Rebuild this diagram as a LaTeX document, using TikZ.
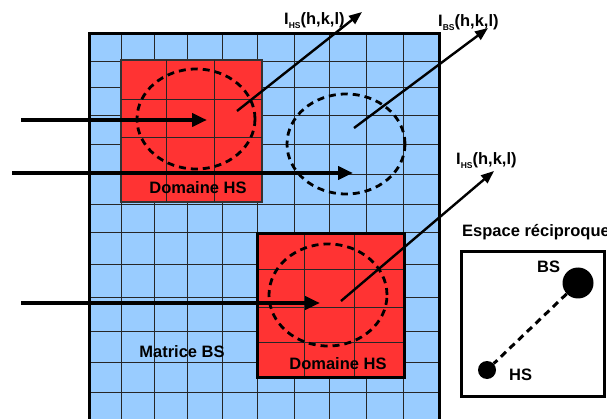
\documentclass[tikz,border=0pt]{standalone}
\usepackage{fontspec}
\setmainfont{Liberation Sans}
\usetikzlibrary{arrows.meta,shapes.geometric}

\definecolor{bleumat}{HTML}{99CCFF}
\definecolor{rougehs}{HTML}{FF3333}

\tikzset{
  matrice/.style={fill=bleumat, draw=none, inner sep=0pt, outer sep=0pt},
  domaine/.style={fill=rougehs, inner sep=0pt, outer sep=0pt},
  grille/.style={line width=1pt, draw=black!85},
  bord/.style={line width=3pt, line cap=rect},
  tache/.style={draw, dashed, dash pattern=on 7pt off 5pt, line width=2.8pt, ellipse, inner sep=0pt, minimum width=118pt, minimum height=100pt},
  faisceau/.style={line width=4.6pt, -{Triangle[length=15pt,width=13pt]}},
  diffuse/.style={line width=2.4pt, -{Triangle[length=13pt,width=10pt]}},
  texte/.style={font=\fontsize{16.5}{19}\selectfont\bfseries, inner sep=0pt},
  point/.style={circle, fill=black, inner sep=0pt}
}

\newcommand{\intens}[1]{I\raisebox{-4pt}{\fontsize{8.5}{9}\selectfont #1}(h,k,l)}

\begin{document}
\begin{tikzpicture}[x=1pt,y=-1pt]
  \useasboundingbox (0,0) rectangle (607,419);
  \clip (0,0) rectangle (607,419);

  % Matrix BS
  \node[matrice, minimum width=350pt, minimum height=392pt] (matrice) at (264,230) {};
  \draw[grille] (121,34) -- (121,419) (154,34) -- (154,419) (187,34) -- (187,419)
    (222,34) -- (222,419) (257,34) -- (257,419) (294,34) -- (294,419)
    (329,34) -- (329,419) (366,34) -- (366,419) (403,34) -- (403,419);
  \draw[grille] (89,62) -- (439,62) (89,88) -- (439,88) (89,116) -- (439,116)
    (89,145) -- (439,145) (89,175) -- (439,175) (89,205) -- (439,205)
    (89,233) -- (439,233) (89,265) -- (439,265) (89,298) -- (439,298)
    (89,331) -- (439,331) (89,362) -- (439,362) (89,392) -- (439,392);
  \draw[bord] (matrice.south west) -- (matrice.north west) -- (matrice.north east) -- (matrice.south east);

  % Domain HS, top
  \node[domaine, draw=black!80, line width=1.6pt, minimum width=141pt, minimum height=142pt] (domaineA) at (191.5,131) {};
  \draw[grille] (166,60) -- (166,202) (214,60) -- (214,202)
    (121,100) -- (262,100) (121,138) -- (262,138) (121,172) -- (262,172);

  % Domain HS, bottom
  \node[domaine, minimum width=147pt, minimum height=143pt] (domaineB) at (330.5,305.5) {};
  \draw[grille] (304,234) -- (304,377) (354,234) -- (354,377)
    (257,270) -- (404,270) (257,307) -- (404,307) (257,342) -- (404,342);
  \draw[line width=3pt] (domaineB.south west) rectangle (domaineB.north east);

  % Scattering volumes
  \node[tache] (tacheA) at (196,119) {};
  \node[tache] (tacheB) at (346,144) {};
  \node[tache, minimum height=102pt] (tacheC) at (328,295) {};

  % Texts
  \node[texte, anchor=base] (nomA) at (198,194) {Domaine HS};
  \node[texte, anchor=base] (nomB) at (338,369) {Domaine HS};
  \node[texte, anchor=base] (nomM) at (182,357) {Matrice BS};

  % Incident beams
  \coordinate (srcA) at (21,120);
  \coordinate (finA) at (207,120);
  \coordinate (srcB) at (12,173);
  \coordinate (finB) at (353,173);
  \coordinate (srcC) at (21,303);
  \coordinate (finC) at (320,303);
  \draw[faisceau] (srcA) -- (finA);
  \draw[faisceau] (srcB) -- (finB);
  \draw[faisceau] (srcC) -- (finC);

  % Diffracted beams
  \coordinate (depA) at (237,111);
  \coordinate (pointeA) at (362,12);
  \coordinate (depB) at (354,128);
  \coordinate (pointeB) at (488,28);
  \coordinate (depC) at (341,301);
  \coordinate (pointeC) at (494,171);
  \draw[diffuse] (depA) -- (pointeA);
  \draw[diffuse] (depB) -- (pointeB);
  \draw[diffuse] (depC) -- (pointeC);
  \node[texte, anchor=base west] (intA) at (284,25) {\intens{HS}};
  \node[texte, anchor=base west] (intB) at (438,27) {\intens{BS}};
  \node[texte, anchor=base west] (intC) at (456,165) {\intens{HS}};

  % Reciprocal space
  \node[texte, anchor=base west] (titreRec) at (462,237) {Espace réciproque};
  \node[draw, line width=3pt, inner sep=0pt, minimum width=143pt, minimum height=144pt] (espace) at (532.5,324) {};
  \node[point, minimum size=31pt] (bsPoint) at (578,283) {};
  \node[point, minimum size=18pt] (hsPoint) at (487,370) {};
  \draw[dashed, dash pattern=on 7pt off 5pt, line width=3pt] (bsPoint) -- (hsPoint);
  \node[texte, anchor=base west] (bsNom) at (537,273) {BS};
  \node[texte, anchor=base west] (hsNom) at (509,380) {HS};
\end{tikzpicture}
\end{document}
